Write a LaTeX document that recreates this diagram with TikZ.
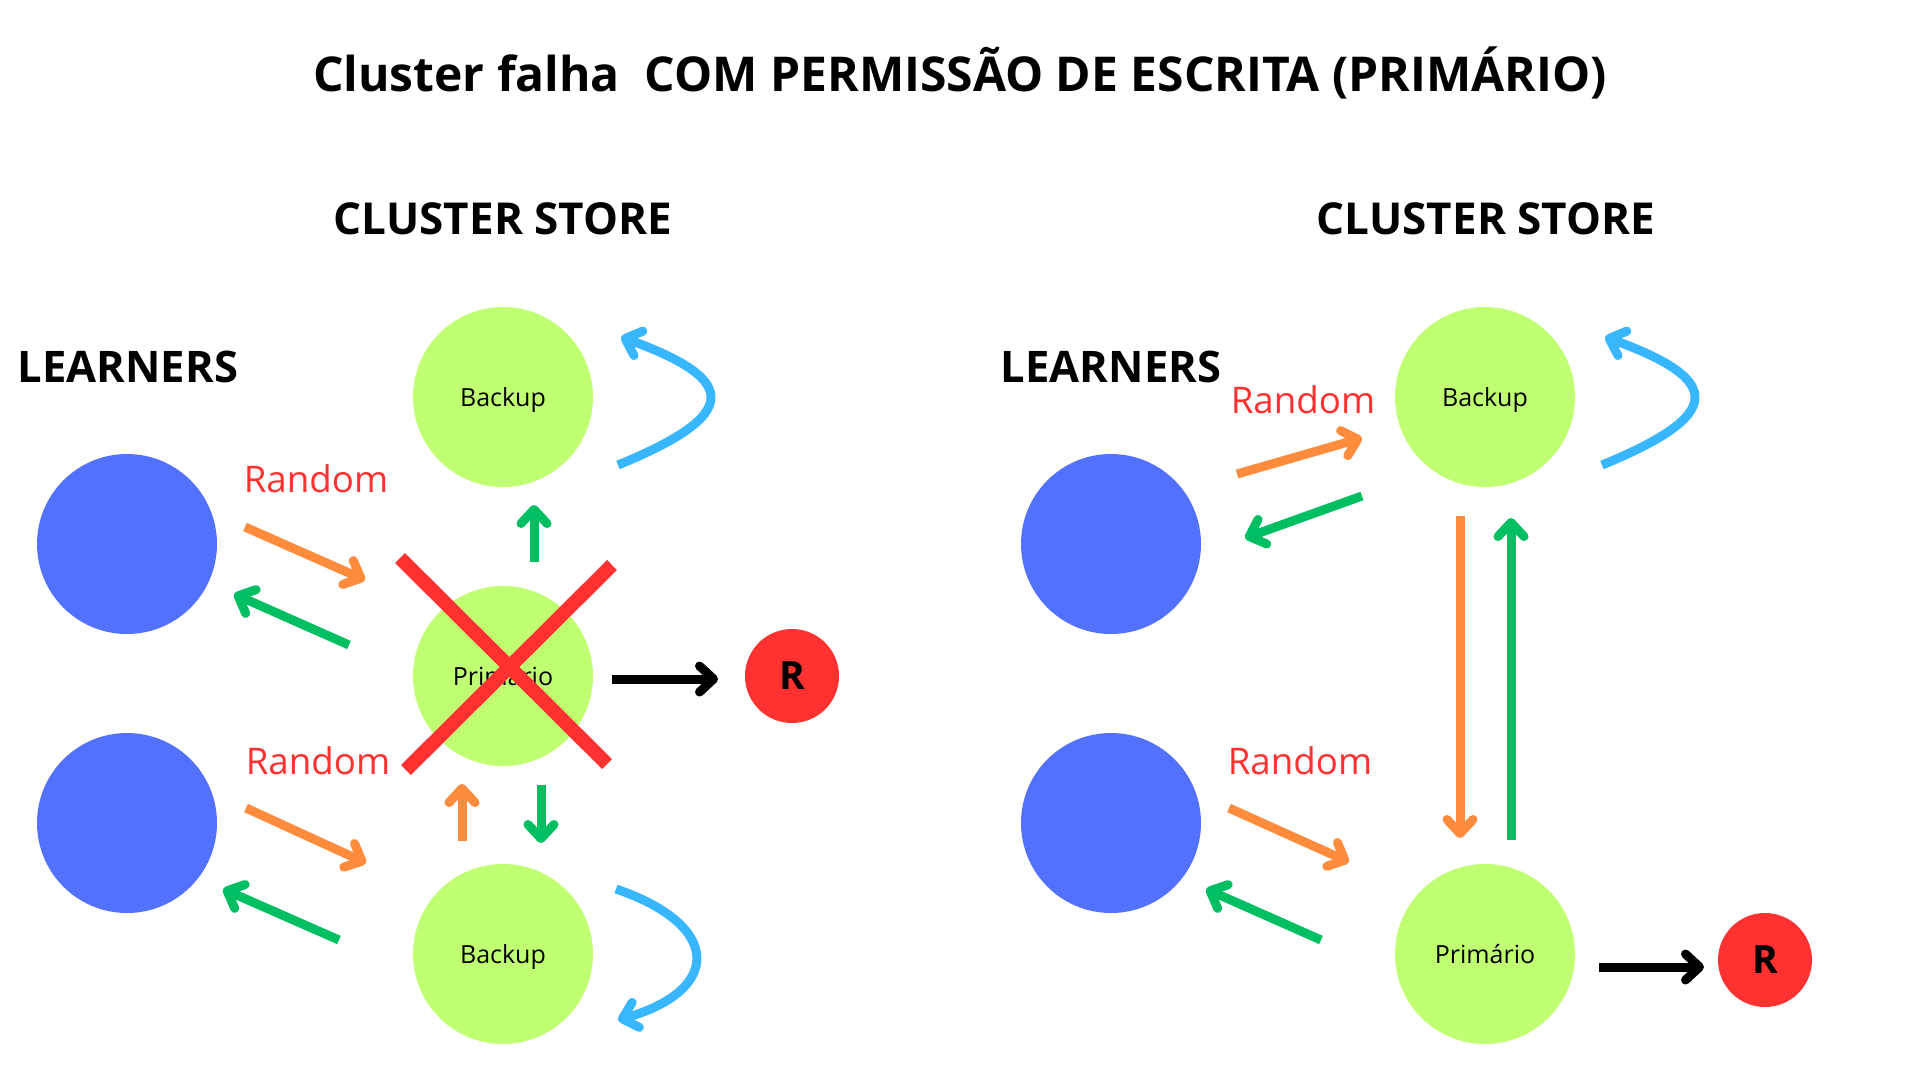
\documentclass[tikz,border=0pt]{standalone}
\usepackage{fontspec}
\setmainfont{Open Sans}
\usetikzlibrary{arrows.meta}
\definecolor{lblue}{HTML}{5271FF}
\definecolor{lime}{HTML}{C1FF72}
\definecolor{xred}{HTML}{FF3131}
\definecolor{aorange}{HTML}{FF8B3D}
\definecolor{agreen}{HTML}{00BF63}
\definecolor{sky}{HTML}{38B6FF}
\begin{document}
\begin{tikzpicture}[x=1pt,y=-1pt,
  learner/.style={circle,fill=lblue,minimum size=180pt,inner sep=0pt},
  store/.style={circle,fill=lime,minimum size=180pt,inner sep=0pt,text depth=0pt,font=\fontsize{25}{30}\selectfont},
  rnode/.style={circle,fill=xred,minimum size=94pt,inner sep=0pt,font=\fontsize{39}{45}\selectfont\bfseries},
  heading/.style={anchor=base,font=\fontsize{44}{52}\selectfont\bfseries},
  lhead/.style={anchor=base,font=\fontsize{43.5}{52}\selectfont\bfseries},
  randlbl/.style={anchor=base,text=xred,font=\fontsize{36.7}{44}\selectfont},
  flow/.style={line width=9pt,-{Straight Barb[length=14pt,width=26pt,line cap=round,line join=round]}},
  oarrow/.style={flow,draw=aorange},
  garrow/.style={flow,draw=agreen},
  barrow/.style={flow,draw=black},
  loop/.style={flow,draw=sky},
  cross/.style={draw=xred,line width=14pt}
]
\useasboundingbox (0,0) rectangle (1920,1080);
\fill[white] (0,0) rectangle (1920,1080);

% title
\node[anchor=base,font=\fontsize{48}{58}\selectfont\bfseries] (title) at (960,91) {Cluster falha\ \ COM PERMISSÃO DE ESCRITA (PRIMÁRIO)};

% ===== left panel =====
\node[heading] (csL) at (503,234) {CLUSTER STORE};
\node[lhead] (lrL) at (128,382) {LEARNERS};

\node[learner] (l1) at (127,544) {};
\node[learner] (l2) at (127,823) {};
\node[store] (bk1) at (503,397) {Backup};
\node[store] (pr1) at (503,676) {Primário};
\node[store] (bk2) at (503,954) {Backup};
\node[rnode] (r1) at (792,676) {R};

\node[randlbl] (rand1) at (316,492) {Random};
\node[randlbl] (rand2) at (318,774) {Random};

\coordinate (a1s) at (245,527); \coordinate (a1e) at (365,580);
\coordinate (a2s) at (349,645); \coordinate (a2e) at (234,594);
\coordinate (a3s) at (246,808); \coordinate (a3e) at (366,863);
\coordinate (a4s) at (339,940); \coordinate (a4e) at (223,889);
\coordinate (a5s) at (534,562); \coordinate (a5e) at (534,505);
\coordinate (a6s) at (462,841); \coordinate (a6e) at (462,784);
\coordinate (a7s) at (541,785); \coordinate (a7e) at (541,843);
\coordinate (a8s) at (612,679); \coordinate (a8e) at (718,679);
\coordinate (c1s) at (618,465); \coordinate (c1e) at (621,337);
\coordinate (c2s) at (616,889); \coordinate (c2e) at (618,1020);

\draw[oarrow] (a1s) -- (a1e);
\draw[garrow] (a2s) -- (a2e);
\draw[oarrow] (a3s) -- (a3e);
\draw[garrow] (a4s) -- (a4e);
\draw[garrow] (a5s) -- (a5e);
\draw[oarrow] (a6s) -- (a6e);
\draw[garrow] (a7s) -- (a7e);
\draw[barrow] (a8s) -- (a8e);
\draw[loop] (c1s) .. controls (740,415) and (740,380) .. (c1e);
\draw[loop] (c2s) .. controls (722,925) and (722,990) .. (c2e);

% red cross
\coordinate (x1s) at (400,558); \coordinate (x1e) at (607,764);
\coordinate (x2s) at (612,565); \coordinate (x2e) at (406,770);
\draw[cross] (x1s) -- (x1e);
\draw[cross] (x2s) -- (x2e);

% ===== right panel =====
\node[heading] (csR) at (1486,234) {CLUSTER STORE};
\node[lhead] (lrR) at (1111,382) {LEARNERS};

\node[learner] (l3) at (1111,544) {};
\node[learner] (l4) at (1111,823) {};
\node[store] (bk3) at (1485,397) {Backup};
\node[store] (pr2) at (1485,954) {Primário};
\node[rnode] (r2) at (1765,960) {R};

\node[randlbl] (rand3) at (1303,413) {Random};
\node[randlbl] (rand4) at (1300,774) {Random};

\coordinate (b1s) at (1237,474); \coordinate (b1e) at (1362,438);
\coordinate (b2s) at (1362,496); \coordinate (b2e) at (1245,538);
\coordinate (b3s) at (1460,516); \coordinate (b3e) at (1460,838);
\coordinate (b4s) at (1511,840); \coordinate (b4e) at (1511,518);
\coordinate (b5s) at (1229,808); \coordinate (b5e) at (1349,862);
\coordinate (b6s) at (1321,940); \coordinate (b6e) at (1206,889);
\coordinate (b7s) at (1599,967); \coordinate (b7e) at (1704,967);
\coordinate (c3s) at (1602,465); \coordinate (c3e) at (1605,337);

\draw[oarrow] (b1s) -- (b1e);
\draw[garrow] (b2s) -- (b2e);
\draw[oarrow] (b3s) -- (b3e);
\draw[garrow] (b4s) -- (b4e);
\draw[oarrow] (b5s) -- (b5e);
\draw[garrow] (b6s) -- (b6e);
\draw[barrow] (b7s) -- (b7e);
\draw[loop] (c3s) .. controls (1724,415) and (1724,380) .. (c3e);
\end{tikzpicture}
\end{document}
